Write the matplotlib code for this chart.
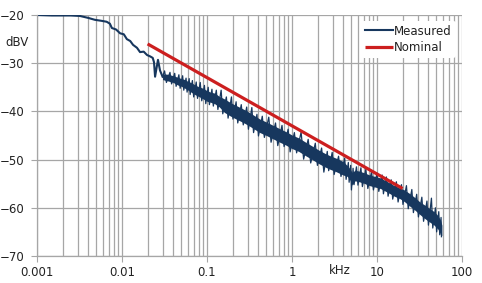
import matplotlib
matplotlib.use("Agg")
import matplotlib.pyplot as plt
from matplotlib.ticker import LogLocator, FixedLocator, NullFormatter

# ---- data ----
# clean low-frequency part of the measured curve (kHz, dBV)
low_f = [0.001, 0.0015, 0.002, 0.0025, 0.0032, 0.004, 0.0048, 0.0057, 0.0066, 0.0072,
         0.0076, 0.0085, 0.0095, 0.0105, 0.0114, 0.0125, 0.0135, 0.015, 0.0163, 0.018,
         0.0197, 0.0215, 0.023, 0.0238, 0.0245, 0.0255, 0.0265, 0.028, 0.03]
low_v = [-20.0, -20.1, -20.1, -20.1, -20.2, -20.6, -21.0, -21.2, -21.4, -21.8,
         -22.7, -23.0, -23.8, -24.0, -25.0, -25.4, -26.2, -26.8, -27.7, -27.6,
         -28.3, -28.6, -28.9, -29.8, -32.8, -31.0, -29.3, -31.5, -32.8]

# core of the noisy band of the measured curve
env_f = [0.03, 0.035, 0.04, 0.045, 0.05, 0.055, 0.06, 0.065, 0.072, 0.08, 0.09, 0.1,
         0.11, 0.123, 0.14, 0.16, 0.186, 0.21, 0.24, 0.28, 0.32, 0.37, 0.42, 0.5, 0.6,
         0.72, 0.85, 1.0, 1.2, 1.45, 1.77, 2.1, 2.5, 2.8, 3.3, 4.0, 4.5, 4.8, 5.1, 5.5,
         6.2, 7.0, 8.2, 9.5, 11, 12.4, 14, 16, 18.6, 21, 24.5, 28, 32, 37, 42, 47, 52,
         56, 58]
env_hi = [-32.2, -32.3, -32.6, -32.9, -33.2, -33.4, -33.8, -34.0, -34.5, -34.9, -35.2,
          -35.7, -36.0, -36.2, -36.9, -37.4, -38.1, -38.6, -39.1, -39.7, -40.3, -41.0,
          -41.6, -42.2, -42.9, -43.6, -44.2, -44.9, -45.5, -46.4, -47.3, -48.1, -48.8,
          -49.2, -49.7, -50.4, -51.3, -51.9, -52.7, -52.2, -52.4, -52.7, -53.2, -53.5,
          -53.8, -54.3, -54.8, -55.4, -55.9, -56.3, -57.1, -57.9, -58.8, -59.5, -60.2,
          -60.8, -61.6, -62.6, -63.6]
env_lo = [-33.4, -33.7, -34.0, -34.5, -34.8, -35.2, -35.6, -36.0, -36.5, -36.9, -37.4,
          -37.9, -38.1, -38.4, -39.1, -40.2, -40.9, -41.4, -41.9, -42.5, -43.1, -43.8,
          -44.4, -45.0, -45.7, -46.4, -47.0, -47.7, -48.3, -49.2, -50.1, -50.9, -51.6,
          -52.0, -52.5, -53.2, -53.5, -54.2, -55.3, -54.4, -54.6, -54.9, -55.4, -55.7,
          -56.0, -56.5, -57.0, -57.6, -58.1, -58.7, -59.7, -60.5, -61.4, -62.3, -63.0,
          -63.6, -64.4, -65.4, -65.8]

# spikes of the noisy part (alternating peaks and troughs)
spk_f = [0.03, 0.0317, 0.0333, 0.0367, 0.0383, 0.0417, 0.0433, 0.0467, 0.0483, 0.0517,
         0.0533, 0.0567, 0.0583, 0.0617, 0.0633, 0.0673, 0.0697, 0.0747, 0.0773, 0.0833,
         0.0867, 0.0933, 0.0967, 0.1033, 0.1067, 0.1143, 0.1187, 0.1287, 0.1343, 0.1467,
         0.1533, 0.169, 0.177, 0.194, 0.202, 0.22, 0.23, 0.253, 0.267, 0.293, 0.307,
         0.337, 0.353, 0.387, 0.403, 0.447, 0.473, 0.533, 0.567, 0.64, 0.68, 0.763,
         0.807, 0.9, 0.95, 1.067, 1.133, 1.28, 1.37, 1.55, 1.66, 1.88, 1.99, 2.23, 2.37,
         2.6, 2.7, 2.97, 3.13, 3.53, 3.77, 4.17, 4.33, 4.6, 4.7, 4.9, 5.0, 5.23, 5.37,
         5.73, 5.97, 6.47, 6.73, 7.4, 7.8, 8.63, 9.07, 10.0, 10.5, 11.5, 11.9, 12.9,
         13.5, 14.7, 15.3, 16.9, 17.7, 19.4, 20.2, 22.2, 23.3, 25.7, 26.8, 29.3, 30.7,
         33.7, 35.3, 38.7, 40.3, 43.7, 45.3, 48.7, 50.3, 53.3, 54.7, 56.7, 57.3]
spk_v = [-32.8, -31.6, -34.0, -31.9, -34.3, -32.1, -34.8, -32.4, -35.2, -32.6,
         -35.6, -33.1, -36.0, -33.2, -36.5, -33.6, -37.0, -33.9, -37.3, -34.0,
         -37.8, -34.6, -38.4, -35.0, -38.6, -35.4, -38.9, -35.6, -39.6, -35.6,
         -40.5, -37.0, -41.4, -37.0, -41.6, -38.0, -42.4, -38.6, -42.8, -39.1, -43.7,
         -39.2, -44.4, -40.6, -45.1, -41.0, -45.4, -41.2, -46.4, -42.4, -47.1, -42.9,
         -47.3, -43.7, -48.4, -44.4, -48.6, -44.3, -49.9, -45.8, -50.7, -46.6, -51.2,
         -47.6, -52.6, -48.3, -52.3, -48.5, -53.1, -49.3, -53.5, -49.7, -54.1, -50.6,
         -54.7, -51.2, -56.3, -51.8, -55.2, -51.5, -55.3, -51.7, -55.6, -52.0, -56.0,
         -52.5, -56.3, -52.8, -56.6, -53.2, -57.1, -53.6, -57.6, -54.2, -58.2, -54.6,
         -58.8, -55.2, -59.3, -55.4, -60.2, -56.2, -61.0, -57.2, -61.9, -57.8, -62.8,
         -58.6, -63.6, -58.0, -64.2, -60.0, -65.0, -60.8, -65.6, -62.0, -66.0]

nom_f = [0.02, 20]
nom_v = [-26.0, -56.0]

x_ticks = [0.001, 0.01, 0.1, 1, 10, 100]
x_labels = ["0.001", "0.01", "0.1", "1", "10", "100"]
y_ticks = [-70, -60, -50, -40, -30, -20]

navy = "#17375e"
red = "#cc1f1f"
grid = "#a6a6a6"

plt.rcParams['font.family'] = ['DejaVu Sans']
fig = plt.figure(figsize=(4.82, 2.83), dpi=100)
ax = fig.add_axes([37/482, 1-256/283, 425/482, 241/283])

ax.set_xscale('log')
ax.set_xlim(0.001, 100)
ax.set_ylim(-70, -20)

ax.xaxis.set_major_locator(FixedLocator(x_ticks))
ax.set_xticklabels(x_labels)
ax.xaxis.set_minor_locator(LogLocator(base=10, subs=range(2, 10), numticks=20))
ax.xaxis.set_minor_formatter(NullFormatter())
ax.set_yticks(y_ticks)

ax.grid(True, which='both', axis='x', color=grid, lw=0.9)
ax.grid(True, which='major', axis='y', color=grid, lw=0.9)
ax.set_axisbelow(True)
for s in ['top', 'right']:
    ax.spines[s].set_visible(False)
for s in ['left', 'bottom']:
    ax.spines[s].set_color(grid)
    ax.spines[s].set_linewidth(0.9)
ax.tick_params(axis='both', which='major', length=4, color=grid, labelsize=8.5,
               labelcolor='#222222')
ax.tick_params(axis='x', which='minor', length=0)
ax.tick_params(axis='y', pad=5)
ax.tick_params(axis='x', pad=3)

ax.fill_between(env_f, env_lo, env_hi, color=navy, lw=0)
ax.plot(spk_f, spk_v, color=navy, lw=0.9)
ax.plot(low_f, low_v, color=navy, lw=1.5, label='Measured')
ax.plot(nom_f, nom_v, color=red, lw=2.3, label='Nominal', solid_capstyle='butt')

leg = ax.legend(loc='upper right', bbox_to_anchor=(0.985, 0.975), fontsize=8.5,
                handlelength=2.3, handletextpad=0.15, labelspacing=0.3,
                frameon=True, facecolor='white', edgecolor='none', framealpha=1,
                borderpad=0.3, borderaxespad=0)
for t in leg.get_texts():
    t.set_color('#222222')

fig.text(5/482, 1-43/283, 'dBV', fontsize=8.5, color='#222222', ha='left', va='center')
fig.text(340/482, 1-270/283, 'kHz', fontsize=8.5, color='#222222', ha='center', va='center')

fig.savefig('out.png', dpi=100, facecolor='white')
